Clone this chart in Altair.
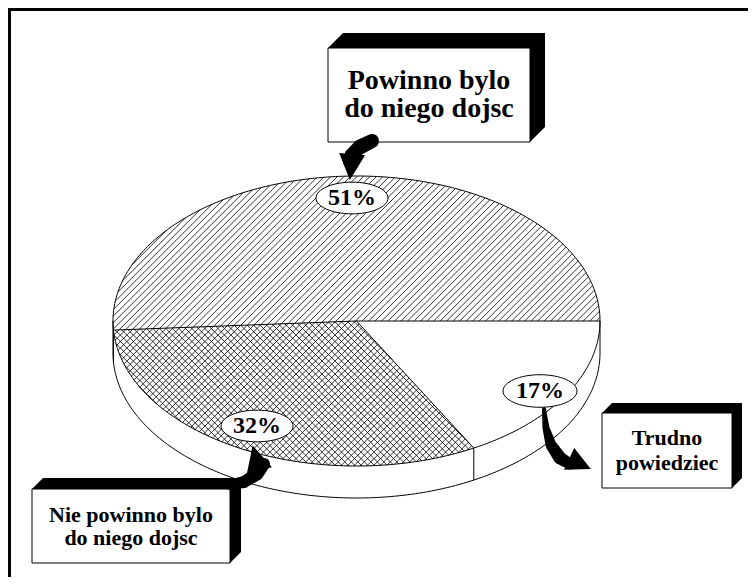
import altair as alt
import numpy as np
import pandas as pd

# ---------------- data ----------------
categories = ["Powinno bylo do niego dojsc", "Nie powinno bylo do niego dojsc", "Trudno powiedziec"]
values = [51, 32, 17]
pct_labels = ["51%", "32%", "17%"]
box_lines = [["Powinno bylo", "do niego dojsc"],
             ["Nie powinno bylo", "do niego dojsc"],
             ["Trudno", "powiedziec"]]

# ---------------- layout / style ----------------
X0, X1, Y0, Y1 = 8, 748, 8, 577
CX, CY, A, B, DEPTH = 356.5, 321.0, 243.5, 145.0, 32.0
HATCH = [[(1, 1)], [(1, 1), (1, -1)], []]  # hatch directions per wedge
STEP = 4.6

bubble_pos = [(352, 198), (257, 426), (540, 391)]
bubble_size = [72, 72, 74]
# box: L, R, T, B, depth, fontsize, line height
boxes = [(328, 530, 48, 142, 15, 28, 28),
         (32, 230, 489, 563, 11, 22, 23),
         (602, 732, 413, 488, 10, 22, 25)]


def ell(t, dy=0.0):
    r = np.radians(t)
    return CX + A * np.cos(r), CY - B * np.sin(r) + dy


cum = np.concatenate([[0], np.cumsum(values)]) / 100 * 360


def wedge_poly(a0, a1):
    ts = np.linspace(a0, a1, 200)
    pts = [(CX, CY)] + [ell(t) for t in ts]
    return np.array(pts)


def hatch(poly, normal, step):
    n = np.array(normal, float)
    n = n / np.linalg.norm(n)
    d = np.array([-n[1], n[0]])
    proj = poly @ n
    segs = []
    c = np.ceil(proj.min() / step) * step
    while c < proj.max():
        pts = []
        for i in range(len(poly)):
            p1 = poly[i]
            p2 = poly[(i + 1) % len(poly)]
            s1 = p1 @ n - c
            s2 = p2 @ n - c
            if (s1 > 0) != (s2 > 0):
                t = s1 / (s1 - s2)
                pts.append(p1 + t * (p2 - p1))
        pts.sort(key=lambda p: p @ d)
        for k in range(0, len(pts) - 1, 2):
            segs.append((pts[k], pts[k + 1]))
        c += step
    return segs


hatch_rows = []
for i in range(len(values)):
    poly = wedge_poly(cum[i], cum[i + 1])
    for nrm in HATCH[i]:
        for p, q in hatch(poly, nrm, STEP):
            hatch_rows.append({"x": p[0], "y": p[1], "x2": q[0], "y2": q[1]})
hatch_df = pd.DataFrame(hatch_rows)

# outlines
out_rows = []
pid = 0


def add_path(pts):
    global pid
    for k, (x, y) in enumerate(pts):
        out_rows.append({"x": x, "y": y, "o": k, "p": pid})
    pid += 1


add_path([ell(t) for t in np.linspace(0, 360, 361)])
for a in cum[:-1]:
    add_path([(CX, CY), ell(a)])
add_path([ell(t, DEPTH) for t in np.linspace(180, 360, 181)])
for a in [180.0, 360.0] + [a for a in cum[1:-1] if 180 < a < 360]:
    add_path([ell(a), ell(a, DEPTH)])
out_df = pd.DataFrame(out_rows)

# box shadows (extrusion) and fronts
sh_rows = []
tri_rows = []
front_rows = []
text_rows = []
TRI_TL = "M -1 1 L 1 -1 L 1 1 Z"
TRI_BR = "M -1 1 L 1 -1 L -1 -1 Z"
for bi, (L, R, T, Bo, d, fs, lh) in enumerate(boxes):
    sh_rows.append({"x": L + d, "x2": R + d, "y": T - d, "y2": Bo - d})
    tri_rows.append({"x": L + d / 2, "y": T - d / 2, "s": d * d, "shape": TRI_TL})
    tri_rows.append({"x": R + d / 2, "y": Bo - d / 2, "s": d * d, "shape": TRI_BR})
    front_rows.append({"x": L, "x2": R, "y": T, "y2": Bo})
    lines = box_lines[bi]
    cy = (T + Bo) / 2
    for li, txt in enumerate(lines):
        text_rows.append({"x": (L + R) / 2, "y": cy + (li - (len(lines) - 1) / 2) * lh,
                          "t": txt, "fs": fs})
sh_df = pd.DataFrame(sh_rows)
tri_df = pd.DataFrame(tri_rows)
front_df = pd.DataFrame(front_rows)
text_df = pd.DataFrame(text_rows)

bub_df = pd.DataFrame({"x": [p[0] for p in bubble_pos], "y": [p[1] for p in bubble_pos],
                       "t": pct_labels, "s": [w * w for w in bubble_size]})

# arrows (decoration)
trail_rows = []
arrow_bodies = [
    [(372, 141, 14), (360, 147, 15), (351, 155, 13), (348, 162, 10)],
    [(544, 409, 4), (546, 428, 7), (551, 445, 11), (560, 458, 13), (570, 464, 11)],
    [(228, 485, 9), (244, 482, 12), (257, 474, 13), (264, 464, 12)],
]
for ai, body in enumerate(arrow_bodies):
    for k, (x, y, w) in enumerate(body):
        trail_rows.append({"x": x, "y": y, "w": w, "o": k, "a": ai})
trail_df = pd.DataFrame(trail_rows)
head_df = pd.DataFrame({"x": [351, 580, 256], "y": [167, 464, 458],
                        "ang": [95, 25, 255], "s": [26 * 26, 24 * 24, 26 * 26]})

frame_df = pd.DataFrame({"x": [8, 9.5], "x2": [748, 9.5], "y": [9.5, 8], "y2": [9.5, 577]})

# ---------------- chart ----------------
xs = alt.Scale(domain=[X0, X1], nice=False, zero=False)
ys = alt.Scale(domain=[Y0, Y1], nice=False, zero=False, reverse=True)


def X(f="x"):
    return alt.X(f + ":Q", scale=xs, axis=None)


def Y(f="y"):
    return alt.Y(f + ":Q", scale=ys, axis=None)


frame = alt.Chart(frame_df).mark_rule(color="black", strokeWidth=3).encode(
    x=X(), y=Y(), x2="x2:Q", y2="y2:Q")

hatches = alt.Chart(hatch_df).mark_rule(color="black", strokeWidth=0.8).encode(
    x=X(), y=Y(), x2="x2:Q", y2="y2:Q")

outlines = alt.Chart(out_df).mark_line(color="black", strokeWidth=1).encode(
    x=X(), y=Y(), order="o:Q", detail="p:N")

shadows = alt.Chart(sh_df).mark_rect(color="black", opacity=1).encode(
    x=X(), x2="x2:Q", y=Y(), y2="y2:Q")

tris = alt.Chart(tri_df).mark_point(filled=True, fill="black", opacity=1, strokeWidth=0).encode(
    x=X(), y=Y(), size=alt.Size("s:Q", scale=None), shape=alt.Shape("shape:N", scale=None))

fronts = alt.Chart(front_df).mark_rect(fill="white", stroke="black", strokeWidth=1).encode(
    x=X(), x2="x2:Q", y=Y(), y2="y2:Q")

texts = alt.Chart(text_df).mark_text(font="Liberation Serif", fontWeight="bold", color="black",
                                     align="center", baseline="middle").encode(
    x=X(), y=Y(), text="t:N", size=alt.Size("fs:Q", scale=None))

trails = alt.Chart(trail_df).mark_trail(color="black").encode(
    x=X(), y=Y(), size=alt.Size("w:Q", scale=None), order="o:Q", detail="a:N")

heads = alt.Chart(head_df).mark_point(
    shape="M -1 -1 L 1 0 L -1 1 Z", filled=True, fill="black", opacity=1, strokeWidth=0).encode(
    x=X(), y=Y(), angle=alt.Angle("ang:Q", scale=None), size=alt.Size("s:Q", scale=None))

bubbles = alt.Chart(bub_df).mark_point(
    shape="M -1 0 A 1 0.44 0 1 1 1 0 A 1 0.44 0 1 1 -1 0 Z", filled=True, fill="white",
    stroke="black", strokeWidth=1, opacity=1).encode(
    x=X(), y=Y(), size=alt.Size("s:Q", scale=None))

bub_text = alt.Chart(bub_df).mark_text(font="Liberation Serif", fontWeight="bold", fontSize=24,
                                       color="black", align="center", baseline="middle").encode(
    x=X(), y=Y(), text="t:N")

chart = alt.layer(frame, hatches, outlines, shadows, tris, fronts, texts, trails, heads,
                  bubbles, bub_text).properties(
    width=X1 - X0, height=Y1 - Y0, padding=0, autosize=alt.AutoSizeParams(type="none"),
    background="white"
).configure_view(stroke=None)

chart.save("out.html", embed_options={"renderer": "svg", "actions": False})
